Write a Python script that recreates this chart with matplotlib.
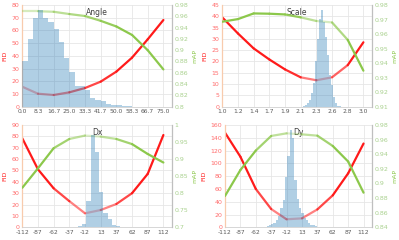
import numpy as np
import matplotlib
matplotlib.use("Agg")
import matplotlib.pyplot as plt
from matplotlib.collections import LineCollection
from matplotlib.colors import to_rgba

# ---------------- data ----------------
angle_labels = ["0.0", "8.3", "16.7", "25.0", "33.3", "41.7", "50.0", "58.3", "66.7", "75.0"]
angle_fid = [15.7, 10.2, 9.2, 11.3, 14.7, 19.7, 27.6, 38.6, 53.0, 68.2]
angle_map = [0.969, 0.969, 0.968, 0.964, 0.9605, 0.952, 0.942, 0.927, 0.900, 0.866]
angle_hist = [36, 53, 70, 76, 70, 67, 61, 51, 38, 27, 16, 16, 13.5, 7, 5, 4.5, 2, 1, 1, 0.5, 0.3]

scale_labels = ["1.0", "1.2", "1.4", "1.7", "1.9", "2.1", "2.3", "2.6", "2.8", "3.0"]
scale_fid = [39.5, 32.4, 25.8, 20.9, 16.5, 13.0, 11.7, 13.0, 18.4, 28.5]
scale_map = [0.9685, 0.9703, 0.9742, 0.974, 0.9735, 0.9715, 0.969, 0.968, 0.956, 0.9348]
scale_hist = [0.5, 0.9, 1.6, 3.1, 6, 10.4, 20, 30, 39, 42.8, 37.6, 31, 23, 14, 9.7, 4.5, 1.6, 0.5, 0.2]

dx_labels = ["-112", "-87", "-62", "-37", "-12", "13", "37", "62", "87", "112"]
dx_fid = [78.3, 51, 34.3, 23, 12.3, 15.2, 20.5, 30, 47, 81.2]
dx_map = [0.816, 0.873, 0.932, 0.959, 0.969, 0.966, 0.959, 0.944, 0.915, 0.890]
dx_hist = [0.2, 0.3, 1, 3, 23, 81, 66, 31, 13, 7, 2, 1, 0.5, 0.3, 0.2]

dy_labels = ["-112", "-87", "-62", "-37", "-12", "13", "37", "62", "87", "112"]
dy_fid = [148, 110.4, 60, 28.6, 12.5, 14, 28, 50, 84.4, 131]
dy_map = [0.8829, 0.9184, 0.945, 0.965, 0.9686, 0.9672, 0.9654, 0.9513, 0.93, 0.8874]
dy_hist = [1, 2, 3, 5, 7, 12, 18, 30, 43, 79, 111, 152, 140, 74, 45, 30, 22, 15, 11, 7, 4, 3, 2, 1, 0.5]

# ---------------- style ----------------
RED = "#ff1a1a"
GREEN = "#8cc84b"
RED_TXT = "#ff6b6b"
GREEN_TXT = "#a9d18e"
GRID = "#e6e6e6"
TXT = "#595959"

panels = [
    dict(title="Angle", labels=angle_labels, fid=angle_fid, mAP=angle_map, hist=angle_hist,
         hstart=0.0, hwidth=1 / 3, fticks=np.arange(0, 81, 10), mticks=np.arange(0.80, 0.981, 0.02),
         mfmt=lambda v: f"{v:.2f}".rstrip("0").rstrip("."), center=0.0, w=9.0,
         pos=(22.3, 5.0, 171.7, 106.7)),
    dict(title="Scale", labels=scale_labels, fid=scale_fid, mAP=scale_map, hist=scale_hist,
         hstart=5.13, hwidth=0.128, fticks=np.arange(0, 46, 5), mticks=np.arange(0.91, 0.981, 0.01),
         mfmt=lambda v: f"{v:.2f}", center=6.35, w=3.0,
         pos=(222.3, 5.0, 371.7, 106.7)),
    dict(title="Dx", labels=dx_labels, fid=dx_fid, mAP=dx_map, hist=dx_hist,
         hstart=3.01, hwidth=0.27, fticks=np.arange(0, 91, 10), mticks=np.arange(0.70, 1.001, 0.05),
         mfmt=lambda v: f"{v:.2f}".rstrip("0").rstrip("."), center=4.5, w=4.0,
         pos=(22.3, 125.0, 171.7, 227.3)),
    dict(title="Dy", labels=dy_labels, fid=dy_fid, mAP=dy_map, hist=dy_hist,
         hstart=2.55, hwidth=0.15, fticks=np.arange(0, 161, 20), mticks=np.arange(0.84, 0.981, 0.02),
         mfmt=lambda v: f"{v:.2f}".rstrip("0").rstrip("."), center=4.5, w=4.0,
         pos=(225.0, 125.0, 371.7, 227.3)),
]

W, H = 399, 240
fig = plt.figure(figsize=(W / 100, H / 100), dpi=100)
XMAX = 9.53


def faded_line(ax, x, y, color, center, w, lw=1.6):
    x = np.asarray(x, float)
    y = np.asarray(y, float)
    pts = np.column_stack([x, y]).reshape(-1, 1, 2)
    segs = np.concatenate([pts[:-1], pts[1:]], axis=1)
    mids = (x[:-1] + x[1:]) / 2
    alphas = np.clip(0.3 + np.abs(mids - center) / w, 0.3, 1.0)
    cols = [to_rgba(color, a) for a in alphas]
    lc = LineCollection(segs, colors=cols, linewidths=lw, capstyle="round", joinstyle="round")
    ax.add_collection(lc)


for p in panels:
    l, t, r, b = p["pos"]
    ax = fig.add_axes([l / W, 1 - b / H, (r - l) / W, (b - t) / H])
    ax2 = ax.twinx()
    ax3 = ax.twinx()

    n = len(p["labels"])
    xs = np.arange(n)
    fmin, fmax = p["fticks"][0], p["fticks"][-1]
    mmin, mmax = p["mticks"][0], p["mticks"][-1]

    for a in (ax, ax2, ax3):
        a.set_xlim(0, XMAX)
    ax.set_ylim(fmin, fmax)
    ax3.set_ylim(fmin, fmax)
    ax2.set_ylim(mmin, mmax)

    # grid
    ax.set_xticks(xs)
    ax.set_xticklabels(p["labels"], fontsize=4.3, color=TXT)
    ax.set_yticks(p["fticks"])
    ax.set_yticklabels([f"{v:g}" for v in p["fticks"]], fontsize=4.5, color=RED_TXT)
    ax.grid(True, color=GRID, linewidth=0.6)
    ax.set_axisbelow(True)
    ax.tick_params(length=0, pad=2)

    ax2.set_yticks(p["mticks"])
    ax2.set_yticklabels([p["mfmt"](v) for v in p["mticks"]], fontsize=4.5, color=GREEN_TXT)
    ax2.tick_params(length=0, pad=2)

    ax3.set_yticks([])
    ax3.axis("off")

    # lines
    faded_line(ax, xs, p["fid"], RED, p["center"], p["w"])
    faded_line(ax2, xs, p["mAP"], GREEN, p["center"], p["w"])

    # histogram on top
    hx = p["hstart"] + p["hwidth"] * np.arange(len(p["hist"]))
    ax3.bar(hx, p["hist"], width=p["hwidth"], align="edge", color="tab:blue", alpha=0.35,
            linewidth=0)

    # spines
    for a in (ax, ax2):
        a.spines["top"].set_visible(False)
    ax.spines["left"].set_color("#f8cbad")
    ax.spines["left"].set_linewidth(0.9)
    ax.spines["bottom"].set_color("#d0d0d0")
    ax.spines["bottom"].set_linewidth(0.6)
    ax.spines["right"].set_visible(False)
    ax2.spines["left"].set_visible(False)
    ax2.spines["bottom"].set_visible(False)
    ax2.spines["right"].set_color("#bfbfbf")
    ax2.spines["right"].set_linewidth(0.9)

    ax.set_ylabel("FID", fontsize=4.5, color=RED, labelpad=3)
    ax2.set_ylabel("mAP", fontsize=4.5, color=GREEN, labelpad=3)
    ax.text(0.5, 0.975, p["title"], transform=ax.transAxes, ha="center", va="top",
            fontsize=5.5, color="#404040", zorder=10)

fig.savefig("out.png", dpi=100)
